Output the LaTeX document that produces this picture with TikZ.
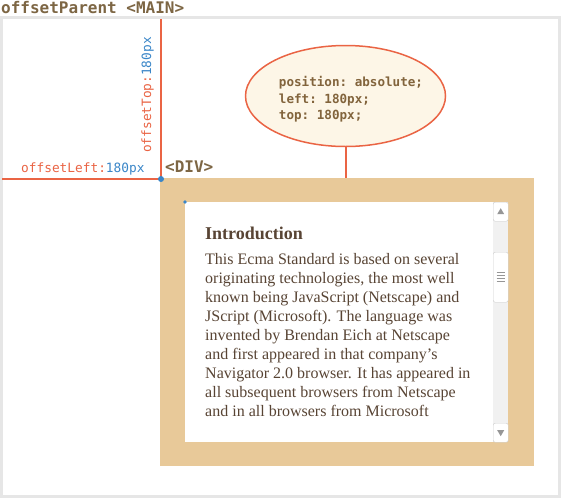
\documentclass[tikz,border=0pt]{standalone}
\usepackage{fontspec}
\setmainfont{Liberation Serif}
\setmonofont{DejaVu Sans Mono}
\usepackage{tikz}
\usetikzlibrary{shapes}

\definecolor{frameGray}{RGB}{230,230,230}
\definecolor{lineRed}{RGB}{234,100,68}
\definecolor{dotBlue}{RGB}{58,134,200}
\definecolor{divTan}{RGB}{232,201,153}
\definecolor{noteFill}{RGB}{253,246,231}
\definecolor{tagBrown}{RGB}{125,102,68}
\definecolor{noteBrown}{RGB}{130,100,60}
\definecolor{textBrown}{RGB}{88,68,52}
\definecolor{barGray}{RGB}{241,241,241}
\definecolor{barEdge}{RGB}{205,205,205}
\definecolor{barArrow}{RGB}{150,150,150}

\begin{document}
\begin{tikzpicture}[x=1pt,y=-1pt]
  \tikzset{
    htmltag/.style={font=\ttfamily\bfseries\fontsize{16}{16}\selectfont, text=tagBrown, inner sep=0pt},
    measure/.style={font=\ttfamily\fontsize{12.8}{13}\selectfont, inner sep=0pt},
    redline/.style={draw=lineRed, line width=2pt},
    button/.style={draw=barEdge, fill=white, rounded corners=2pt, minimum width=15pt, minimum height=19pt, anchor=north west, inner sep=0pt},
  }
  \useasboundingbox (0,0) rectangle (561,498);
  \fill[frameGray] (0,16) rectangle (561,498);
  \fill[white] (3,19) rectangle (558,495);
  \node[htmltag, anchor=base west] (main) at (1,13) {offsetParent <MAIN>};

  \coordinate (corner) at (161,179);
  \coordinate (topEnd) at (161,19);
  \coordinate (leftEnd) at (2,179);
  \node [fill=divTan, minimum width=374pt, minimum height=288pt, anchor=north west, inner sep=0pt] (div) at (160,178) {};
  \draw [redline] (topEnd) -- (corner) -- (leftEnd);
  \fill [dotBlue] (corner) circle (3pt);
  \node [measure, anchor=base west] (leftLabel) at (21,172) {\color{lineRed}offsetLeft:\color{dotBlue}180px};
  \node [measure, anchor=base west, rotate=90] (topLabel) at (151,153) {\color{lineRed}offsetTop:\color{dotBlue}180px};
  \node [htmltag, anchor=base west] (divTag) at (165,172) {<DIV>};

  \node [ellipse, draw=lineRed, line width=1.5pt, fill=noteFill, minimum width=200pt, minimum height=101pt, inner sep=0pt] (note) at (345.5,96) {};
  \node [font=\ttfamily\bfseries\fontsize{12.6}{16.5}\selectfont, text=noteBrown, align=left, inner sep=0pt] (noteText) at (351,99.5) {position: absolute;\\left: 180px;\\top: 180px;};
  \draw [redline] (note.south) -- (note.south |- div.north);

  \node [fill=white, minimum width=323pt, minimum height=240pt, anchor=north west, inner sep=0pt] (content) at (185,202) {};
  \fill [dotBlue] (content.north west) circle (1.8pt);
  \node [fill=barGray, minimum width=15pt, minimum height=240pt, anchor=north east, inner sep=0pt] (track) at (content.north east) {};
  \node [button] (upBtn) at (track.north west) {};
  \node [button, minimum height=50pt] (thumb) at (493,252) {};
  \node [button, anchor=south west] (downBtn) at (track.south west) {};
  \fill [barArrow] (upBtn.center) ++(-3.5,2.5) -- ++(7,0) -- ++(-3.5,-6) -- cycle;
  \fill [barArrow] (downBtn.center) ++(-3.5,-2.5) -- ++(7,0) -- ++(-3.5,6) -- cycle;
  \foreach \g in {0,...,3} {
    \draw [barArrow, line width=1.2pt] ([shift={(-4,{-4.5+3*\g})}]thumb.center) -- ++(8,0);
  }

  \node [font=\bfseries\fontsize{18}{18}\selectfont, text=textBrown, inner sep=0pt, anchor=base west] (heading) at (205,239) {Introduction};
  \node [font=\fontsize{16}{19}\selectfont, text=textBrown, inner sep=0pt, align=left, anchor=base west] (intro) at (205,416) {This Ecma Standard is based on several\\originating technologies, the most well\\known being JavaScript (Netscape) and\\JScript (Microsoft). The language was\\invented by Brendan Eich at Netscape\\and first appeared in that company’s\\Navigator 2.0 browser. It has appeared in\\all subsequent browsers from Netscape\\and in all browsers from Microsoft};
\end{tikzpicture}
\end{document}
